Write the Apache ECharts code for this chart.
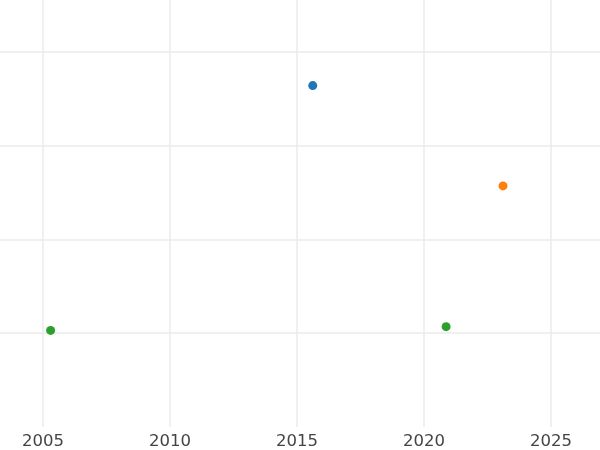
<!DOCTYPE html>
<html>
<head>
<meta charset="utf-8">
<script src="https://cdn.jsdelivr.net/npm/echarts@6/dist/echarts.min.js"></script>
<style>
  html, body { margin: 0; padding: 0; background: #fff; }
  #chart { width: 600px; height: 450px; }
</style>
</head>
<body>
<div id="chart"></div>
<script>
  // points: [year, value]
  var blueData = [[2015.62, 3.64]];
  var orangeData = [[2023.11, 2.57]];
  var greenData = [[2005.30, 1.03], [2020.87, 1.07]];
  var xTicks = [2005, 2010, 2015, 2020, 2025];

  var chart = echarts.init(document.getElementById('chart'));

  chart.setOption({
    backgroundColor: '#fff',
    animation: false,
    // grid pushed past the edges so only 2003.3 .. 2026.9 is visible
    grid: {
      left: -84, right: -78, top: -42, bottom: 23,
      outerBoundsMode: 'none',
      containLabel: false
    },
    xAxis: {
      type: 'value',
      min: 2000,
      max: 2030,
      interval: 5,
      axisLine: { show: false },
      axisTick: { show: false },
      axisLabel: {
        fontFamily: 'DejaVu Sans',
        fontSize: 16.5,
        color: '#444',
        margin: 6,
        hideOverlap: false,
        formatter: function (v) {
          return xTicks.indexOf(v) >= 0 ? String(v) : '';
        }
      },
      splitLine: { lineStyle: { color: '#ebebeb', width: 1.5 } }
    },
    yAxis: {
      type: 'value',
      min: 0,
      max: 5,
      interval: 1,
      axisLine: { show: false },
      axisTick: { show: false },
      axisLabel: { show: false },
      splitLine: {
        lineStyle: {
          // no line on the bottom edge
          color: ['transparent', '#ebebeb', '#ebebeb', '#ebebeb', '#ebebeb', '#ebebeb'],
          width: 1.5
        }
      }
    },
    series: [
      { type: 'scatter', data: blueData, symbolSize: 9, itemStyle: { color: '#1f77b4', opacity: 1 } },
      { type: 'scatter', data: orangeData, symbolSize: 9, itemStyle: { color: '#ff7f0e', opacity: 1 } },
      { type: 'scatter', data: greenData, symbolSize: 9, itemStyle: { color: '#2ca02c', opacity: 1 } }
    ]
  });
</script>
</body>
</html>
